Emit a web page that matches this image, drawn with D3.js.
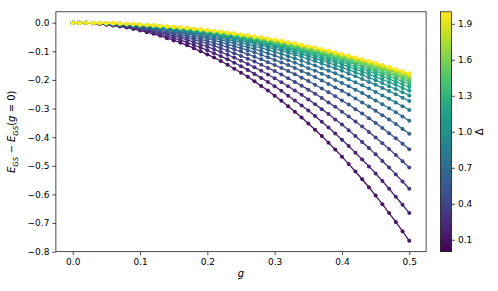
<!DOCTYPE html>
<html>
<head>
<meta charset="utf-8">
<script src="https://cdn.jsdelivr.net/npm/d3@7"></script>
<style>
body { margin: 0; background: #fff; }
text { font-family: "DejaVu Sans", sans-serif; fill: #000; }
</style>
</head>
<body>
<script>

// coupling grid (x values)
var gValues = [0,0.01,0.02,0.03,0.04,0.05,0.06,0.07,0.08,0.09,0.1,0.11,0.12,0.13,0.14,0.15,0.16,0.17,0.18,0.19,0.2,
  0.21,0.22,0.23,0.24,0.25,0.26,0.27,0.28,0.29,0.3,0.31,0.32,0.33,0.34,0.35,0.36,0.37,0.38,0.39,0.4,
  0.41,0.42,0.43,0.44,0.45,0.46,0.47,0.48,0.49,0.5];

var deltaValues = [0.1,0.2,0.3,0.4,0.5,0.6,0.7,0.8,0.9,1.0,1.1,1.2,1.3,1.4,1.5,1.6,1.7,1.8,1.9,2.0];

// E_GS - E_GS(g=0), one array per Delta
var eD01 = [0,0,-0.001,-0.002,-0.004,-0.007,-0.010,-0.013,-0.017,-0.022,-0.027,-0.033,-0.039,-0.046,-0.054,-0.062,-0.070,-0.079,-0.089,-0.100,-0.111,-0.122,-0.134,-0.147,-0.161,-0.175,-0.189,-0.205,-0.221,-0.237,-0.255,-0.273,-0.292,-0.311,-0.331,-0.352,-0.374,-0.396,-0.419,-0.443,-0.468,-0.494,-0.520,-0.547,-0.575,-0.604,-0.634,-0.665,-0.696,-0.729,-0.762];
var eD02 = [0,0,-0.001,-0.002,-0.004,-0.006,-0.009,-0.012,-0.015,-0.019,-0.024,-0.029,-0.034,-0.040,-0.047,-0.054,-0.061,-0.069,-0.078,-0.087,-0.096,-0.107,-0.117,-0.128,-0.140,-0.152,-0.165,-0.179,-0.193,-0.207,-0.222,-0.238,-0.255,-0.272,-0.289,-0.307,-0.326,-0.346,-0.366,-0.387,-0.409,-0.431,-0.454,-0.478,-0.502,-0.527,-0.553,-0.580,-0.608,-0.636,-0.665];
var eD03 = [0,0,-0.001,-0.002,-0.003,-0.005,-0.007,-0.010,-0.013,-0.017,-0.021,-0.025,-0.030,-0.035,-0.041,-0.047,-0.053,-0.060,-0.068,-0.076,-0.084,-0.093,-0.102,-0.112,-0.122,-0.133,-0.144,-0.156,-0.168,-0.181,-0.194,-0.208,-0.222,-0.237,-0.252,-0.268,-0.285,-0.302,-0.319,-0.338,-0.356,-0.376,-0.396,-0.417,-0.438,-0.460,-0.483,-0.506,-0.530,-0.555,-0.580];
var eD04 = [0,0,-0.001,-0.002,-0.003,-0.005,-0.006,-0.009,-0.012,-0.015,-0.018,-0.022,-0.026,-0.031,-0.036,-0.041,-0.047,-0.053,-0.059,-0.066,-0.073,-0.081,-0.089,-0.098,-0.107,-0.116,-0.126,-0.136,-0.147,-0.158,-0.169,-0.181,-0.194,-0.207,-0.220,-0.234,-0.248,-0.263,-0.279,-0.294,-0.311,-0.328,-0.345,-0.363,-0.382,-0.401,-0.421,-0.441,-0.462,-0.484,-0.506];
var eD05 = [0,0,-0.001,-0.001,-0.003,-0.004,-0.006,-0.008,-0.010,-0.013,-0.016,-0.019,-0.023,-0.027,-0.031,-0.036,-0.041,-0.046,-0.052,-0.058,-0.064,-0.071,-0.078,-0.085,-0.093,-0.101,-0.110,-0.119,-0.128,-0.138,-0.148,-0.158,-0.169,-0.180,-0.192,-0.204,-0.217,-0.230,-0.243,-0.257,-0.272,-0.286,-0.302,-0.317,-0.334,-0.350,-0.368,-0.386,-0.404,-0.423,-0.442];
var eD06 = [0,0,-0.001,-0.001,-0.002,-0.003,-0.005,-0.007,-0.009,-0.011,-0.014,-0.017,-0.020,-0.024,-0.027,-0.031,-0.036,-0.040,-0.045,-0.051,-0.056,-0.062,-0.068,-0.075,-0.082,-0.089,-0.096,-0.104,-0.112,-0.121,-0.130,-0.139,-0.148,-0.158,-0.169,-0.179,-0.190,-0.202,-0.214,-0.226,-0.238,-0.251,-0.265,-0.279,-0.293,-0.308,-0.323,-0.338,-0.354,-0.371,-0.388];
var eD07 = [0,0,0,-0.001,-0.002,-0.003,-0.004,-0.006,-0.008,-0.010,-0.012,-0.015,-0.018,-0.021,-0.024,-0.028,-0.032,-0.036,-0.040,-0.045,-0.050,-0.055,-0.060,-0.066,-0.072,-0.079,-0.085,-0.092,-0.099,-0.107,-0.115,-0.123,-0.131,-0.140,-0.149,-0.159,-0.168,-0.178,-0.189,-0.200,-0.211,-0.222,-0.234,-0.246,-0.259,-0.272,-0.285,-0.299,-0.313,-0.328,-0.343];
var eD08 = [0,0,0,-0.001,-0.002,-0.003,-0.004,-0.005,-0.007,-0.009,-0.011,-0.013,-0.016,-0.018,-0.021,-0.025,-0.028,-0.032,-0.036,-0.040,-0.044,-0.049,-0.054,-0.059,-0.064,-0.070,-0.076,-0.082,-0.088,-0.095,-0.102,-0.109,-0.117,-0.125,-0.133,-0.141,-0.150,-0.159,-0.168,-0.177,-0.187,-0.198,-0.208,-0.219,-0.230,-0.242,-0.254,-0.266,-0.279,-0.292,-0.305];
var eD09 = [0,0,0,-0.001,-0.002,-0.002,-0.004,-0.005,-0.006,-0.008,-0.010,-0.012,-0.014,-0.017,-0.019,-0.022,-0.025,-0.029,-0.032,-0.036,-0.040,-0.044,-0.048,-0.053,-0.058,-0.063,-0.068,-0.074,-0.079,-0.085,-0.092,-0.098,-0.105,-0.112,-0.119,-0.127,-0.134,-0.143,-0.151,-0.159,-0.168,-0.178,-0.187,-0.197,-0.207,-0.217,-0.228,-0.239,-0.250,-0.262,-0.274];
var eD10 = [0,0,0,-0.001,-0.001,-0.002,-0.003,-0.004,-0.006,-0.007,-0.009,-0.011,-0.013,-0.015,-0.018,-0.021,-0.023,-0.026,-0.030,-0.033,-0.037,-0.041,-0.045,-0.049,-0.054,-0.058,-0.063,-0.068,-0.074,-0.079,-0.085,-0.091,-0.097,-0.104,-0.110,-0.117,-0.125,-0.132,-0.140,-0.148,-0.156,-0.165,-0.173,-0.182,-0.192,-0.201,-0.211,-0.222,-0.232,-0.243,-0.254];
var eD11 = [0,0,0,-0.001,-0.001,-0.002,-0.003,-0.004,-0.005,-0.007,-0.009,-0.010,-0.012,-0.014,-0.017,-0.019,-0.022,-0.025,-0.028,-0.031,-0.035,-0.038,-0.042,-0.046,-0.050,-0.055,-0.059,-0.064,-0.069,-0.074,-0.080,-0.085,-0.091,-0.097,-0.103,-0.110,-0.117,-0.124,-0.131,-0.138,-0.146,-0.154,-0.162,-0.171,-0.180,-0.189,-0.198,-0.208,-0.217,-0.228,-0.238];
var eD12 = [0,0,0,-0.001,-0.001,-0.002,-0.003,-0.004,-0.005,-0.007,-0.008,-0.010,-0.012,-0.014,-0.016,-0.018,-0.021,-0.023,-0.026,-0.029,-0.033,-0.036,-0.040,-0.043,-0.047,-0.052,-0.056,-0.060,-0.065,-0.070,-0.075,-0.081,-0.086,-0.092,-0.098,-0.104,-0.110,-0.117,-0.124,-0.131,-0.138,-0.146,-0.154,-0.162,-0.170,-0.178,-0.187,-0.196,-0.206,-0.215,-0.225];
var eD13 = [0,0,0,-0.001,-0.001,-0.002,-0.003,-0.004,-0.005,-0.006,-0.008,-0.009,-0.011,-0.013,-0.015,-0.017,-0.020,-0.022,-0.025,-0.028,-0.031,-0.034,-0.038,-0.041,-0.045,-0.049,-0.053,-0.057,-0.062,-0.067,-0.072,-0.077,-0.082,-0.087,-0.093,-0.099,-0.105,-0.111,-0.118,-0.125,-0.131,-0.139,-0.146,-0.154,-0.162,-0.170,-0.178,-0.187,-0.196,-0.205,-0.214];
var eD14 = [0,0,0,-0.001,-0.001,-0.002,-0.003,-0.004,-0.005,-0.006,-0.007,-0.009,-0.011,-0.012,-0.014,-0.017,-0.019,-0.021,-0.024,-0.027,-0.030,-0.033,-0.036,-0.040,-0.043,-0.047,-0.051,-0.055,-0.059,-0.064,-0.069,-0.073,-0.078,-0.084,-0.089,-0.095,-0.101,-0.107,-0.113,-0.119,-0.126,-0.133,-0.140,-0.147,-0.155,-0.163,-0.171,-0.179,-0.187,-0.196,-0.205];
var eD15 = [0,0,0,-0.001,-0.001,-0.002,-0.003,-0.003,-0.005,-0.006,-0.007,-0.009,-0.010,-0.012,-0.014,-0.016,-0.018,-0.021,-0.023,-0.026,-0.029,-0.032,-0.035,-0.038,-0.042,-0.045,-0.049,-0.053,-0.057,-0.062,-0.066,-0.071,-0.076,-0.081,-0.086,-0.092,-0.097,-0.103,-0.109,-0.115,-0.122,-0.128,-0.135,-0.142,-0.149,-0.157,-0.165,-0.173,-0.181,-0.189,-0.198];
var eD16 = [0,0,0,-0.001,-0.001,-0.002,-0.002,-0.003,-0.004,-0.006,-0.007,-0.008,-0.010,-0.012,-0.014,-0.016,-0.018,-0.020,-0.022,-0.025,-0.028,-0.031,-0.034,-0.037,-0.040,-0.044,-0.048,-0.052,-0.056,-0.060,-0.064,-0.069,-0.073,-0.078,-0.083,-0.089,-0.094,-0.100,-0.106,-0.112,-0.118,-0.124,-0.131,-0.138,-0.145,-0.152,-0.160,-0.167,-0.175,-0.184,-0.192];
var eD17 = [0,0,0,-0.001,-0.001,-0.002,-0.002,-0.003,-0.004,-0.005,-0.007,-0.008,-0.010,-0.011,-0.013,-0.015,-0.017,-0.019,-0.022,-0.024,-0.027,-0.030,-0.033,-0.036,-0.039,-0.043,-0.046,-0.050,-0.054,-0.058,-0.063,-0.067,-0.072,-0.076,-0.081,-0.086,-0.092,-0.097,-0.103,-0.109,-0.115,-0.121,-0.128,-0.134,-0.141,-0.148,-0.156,-0.163,-0.171,-0.179,-0.187];
var eD18 = [0,0,0,-0.001,-0.001,-0.002,-0.002,-0.003,-0.004,-0.005,-0.007,-0.008,-0.009,-0.011,-0.013,-0.015,-0.017,-0.019,-0.021,-0.024,-0.027,-0.029,-0.032,-0.035,-0.039,-0.042,-0.045,-0.049,-0.053,-0.057,-0.061,-0.066,-0.070,-0.075,-0.080,-0.085,-0.090,-0.095,-0.101,-0.106,-0.112,-0.119,-0.125,-0.131,-0.138,-0.145,-0.152,-0.160,-0.167,-0.175,-0.183];
var eD19 = [0,0,0,-0.001,-0.001,-0.002,-0.002,-0.003,-0.004,-0.005,-0.006,-0.008,-0.009,-0.011,-0.013,-0.015,-0.017,-0.019,-0.021,-0.024,-0.026,-0.029,-0.032,-0.035,-0.038,-0.041,-0.045,-0.048,-0.052,-0.056,-0.060,-0.064,-0.069,-0.073,-0.078,-0.083,-0.088,-0.094,-0.099,-0.105,-0.111,-0.117,-0.123,-0.129,-0.136,-0.143,-0.150,-0.157,-0.164,-0.172,-0.180];
var eD20 = [0,0,0,-0.001,-0.001,-0.002,-0.002,-0.003,-0.004,-0.005,-0.006,-0.008,-0.009,-0.011,-0.012,-0.014,-0.016,-0.018,-0.021,-0.023,-0.026,-0.028,-0.031,-0.034,-0.037,-0.041,-0.044,-0.048,-0.051,-0.055,-0.059,-0.063,-0.068,-0.072,-0.077,-0.082,-0.087,-0.092,-0.097,-0.103,-0.109,-0.115,-0.121,-0.127,-0.134,-0.140,-0.147,-0.154,-0.162,-0.169,-0.177];

var energies = [eD01, eD02, eD03, eD04, eD05, eD06, eD07, eD08, eD09, eD10,
                eD11, eD12, eD13, eD14, eD15, eD16, eD17, eD18, eD19, eD20];

var xTicks = [0.0, 0.1, 0.2, 0.3, 0.4, 0.5];
var yTicks = [0.0, -0.1, -0.2, -0.3, -0.4, -0.5, -0.6, -0.7, -0.8];
var cbarTicks = [0.1, 0.4, 0.7, 1.0, 1.3, 1.6, 1.9];

var w = 498,
    h = 291,
    plotLeft = 55.9, plotRight = 426.1, plotTop = 11.8, plotBottom = 251.7,
    cbLeft = 440.5, cbRight = 451.5;

var x = d3.scaleLinear().domain([-0.025, 0.525]).range([plotLeft, plotRight]);
var y = d3.scaleLinear().domain([-0.8, 0.038]).range([plotBottom, plotTop]);
var color = d3.scaleSequential(d3.interpolateViridis).domain([0, 2]);
var cb = d3.scaleLinear().domain([0, 2]).range([plotBottom, plotTop]);
var fmt = d3.format(".1f");

var svg = d3.select("body")
  .append("svg")
    .attr("width", w)
    .attr("height", h);

svg.append("rect")
    .attr("width", w)
    .attr("height", h)
    .attr("fill", "#fff");

// curves, lowest Delta first so yellow ends on top
var line = d3.line()
    .x(function(d, i) { return x(gValues[i]); })
    .y(function(d) { return y(d); });

var curves = svg.append("g")
  .selectAll("g")
    .data(energies)
  .enter().append("g");

curves.append("path")
    .attr("d", line)
    .attr("fill", "none")
    .attr("stroke", function(d, i) { return color(deltaValues[i]); })
    .attr("stroke-width", 1.3);

curves.each(function(d, i) {
  d3.select(this).selectAll("circle")
      .data(d)
    .enter().append("circle")
      .attr("cx", function(v, j) { return x(gValues[j]); })
      .attr("cy", function(v) { return y(v); })
      .attr("r", 2)
      .attr("fill", color(deltaValues[i]));
});

// axes
var xAxis = d3.axisBottom(x).tickValues(xTicks).tickFormat(fmt).tickSize(3.5).tickPadding(3);
var yAxis = d3.axisLeft(y).tickValues(yTicks).tickFormat(fmt).tickSize(3.5).tickPadding(3);

var gx = svg.append("g")
    .attr("transform", "translate(0," + plotBottom + ")")
    .call(xAxis);
var gy = svg.append("g")
    .attr("transform", "translate(" + plotLeft + ",0)")
    .call(yAxis);

[gx, gy].forEach(function(g) {
  g.select(".domain").remove();
  g.selectAll("line").attr("stroke", "#000").attr("stroke-width", 0.7);
  g.selectAll("text").attr("font-size", 9).attr("font-family", "DejaVu Sans").attr("fill", "#000");
});

svg.append("rect")
    .attr("x", plotLeft)
    .attr("y", plotTop)
    .attr("width", plotRight - plotLeft)
    .attr("height", plotBottom - plotTop)
    .attr("fill", "none")
    .attr("stroke", "#000")
    .attr("stroke-width", 0.7);

// axis labels
svg.append("text")
    .attr("x", (plotLeft + plotRight) / 2)
    .attr("y", 277)
    .attr("text-anchor", "middle")
    .attr("font-size", 10)
    .attr("font-style", "italic")
    .text("g");

var yl = svg.append("text")
    .attr("transform", "translate(15," + ((plotTop + plotBottom) / 2) + ") rotate(-90)")
    .attr("text-anchor", "middle")
    .attr("font-size", 10);
yl.append("tspan").attr("font-style", "italic").text("E");
yl.append("tspan").attr("font-style", "italic").attr("font-size", 7).attr("dy", 2.5).text("GS");
yl.append("tspan").attr("dy", -2.5).text(" \u2212 ");
yl.append("tspan").attr("font-style", "italic").text("E");
yl.append("tspan").attr("font-style", "italic").attr("font-size", 7).attr("dy", 2.5).text("GS");
yl.append("tspan").attr("dy", -2.5).text("(");
yl.append("tspan").attr("font-style", "italic").text("g");
yl.append("tspan").text(" = 0)");

// colorbar
var grad = svg.append("defs").append("linearGradient")
    .attr("id", "viridis")
    .attr("x1", 0).attr("y1", 1)
    .attr("x2", 0).attr("y2", 0);
grad.selectAll("stop")
    .data(d3.range(0, 1.0001, 0.05))
  .enter().append("stop")
    .attr("offset", function(t) { return t; })
    .attr("stop-color", function(t) { return d3.interpolateViridis(t); });

svg.append("rect")
    .attr("x", cbLeft)
    .attr("y", plotTop)
    .attr("width", cbRight - cbLeft)
    .attr("height", plotBottom - plotTop)
    .attr("fill", "url(#viridis)")
    .attr("stroke", "#000")
    .attr("stroke-width", 0.7);

var cAxis = d3.axisRight(cb).tickValues(cbarTicks).tickFormat(fmt).tickSize(3.5).tickPadding(3);
var gc = svg.append("g")
    .attr("transform", "translate(" + cbRight + ",0)")
    .call(cAxis);
gc.select(".domain").remove();
gc.selectAll("line").attr("stroke", "#000").attr("stroke-width", 0.7);
gc.selectAll("text").attr("font-size", 9).attr("font-family", "DejaVu Sans").attr("fill", "#000");

svg.append("text")
    .attr("transform", "translate(483," + ((plotTop + plotBottom) / 2) + ") rotate(-90)")
    .attr("text-anchor", "middle")
    .attr("font-size", 10)
    .text("\u0394");

</script>
</body>
</html>
